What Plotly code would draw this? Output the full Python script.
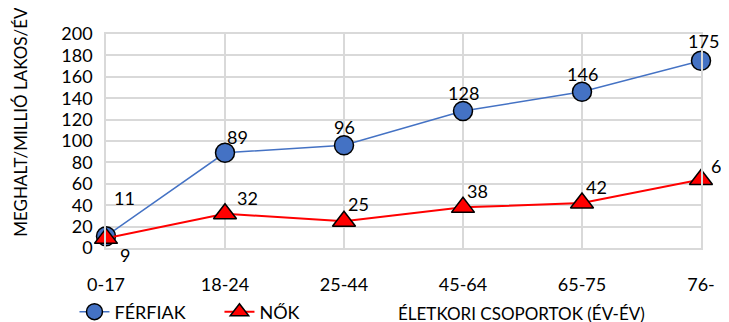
import plotly.graph_objects as go

categories = ["0-17", "18-24", "25-44", "45-64", "65-75", "76-"]
ferfiak = [11, 89, 96, 128, 146, 175]
nok = [9, 32, 25, 38, 42, 64]
y_ticks = [0, 20, 40, 60, 80, 100, 120, 140, 160, 180, 200]

FONT = "Lato"
FS = 18
fig = go.Figure()
fig.add_trace(go.Scatter(
    x=list(range(len(categories))), y=ferfiak, mode="lines+markers", name="FÉRFIAK",
    line=dict(color="#4472C4", width=1.5),
    marker=dict(symbol="circle", size=19, color="#4472C4", line=dict(color="black", width=1.5)),
    cliponaxis=False,
))
fig.add_trace(go.Scatter(
    x=list(range(len(categories))), y=nok, mode="lines+markers", name="NŐK",
    line=dict(color="#FF0000", width=2),
    marker=dict(symbol="triangle-up", size=20, color="#FF0000", line=dict(color="black", width=1.5)),
    cliponaxis=False,
))

# data labels
men_off = [(18, 38), (12, 16), (0, 18), (0, 18), (0, 18), (2, 20)]
women_off = [(19, -17), (22, 16), (14, 17), (14, 16), (14, 16), (20, 14)]
for i, v in enumerate(ferfiak):
    fig.add_annotation(x=i, y=v, text=str(v), showarrow=False, xshift=men_off[i][0],
                       yshift=men_off[i][1], font=dict(family=FONT, size=FS, color="black"))
for i, v in enumerate(nok):
    fig.add_annotation(x=i, y=v, text=str(v), showarrow=False, xshift=women_off[i][0],
                       yshift=women_off[i][1], font=dict(family=FONT, size=FS, color="black"))

fig.add_annotation(xref="paper", yref="paper", x=0.699, y=-0.305, xanchor="center", yanchor="middle",
                   text="ÉLETKORI CSOPORTOK (ÉV-ÉV)",
                   showarrow=False, font=dict(family=FONT, size=17, color="black"))
fig.add_annotation(xref="paper", yref="paper", x=-0.143, y=0.589, xanchor="center", yanchor="middle",
                   text="MEGHALT/MILLIÓ LAKOS/ÉV",
                   showarrow=False, textangle=-90, font=dict(family=FONT, size=17, color="black"))

# page body has an 8px margin: compensate so the plot area lands at x 106..701, y 34..248
fig.update_layout(
    width=729, height=322,
    margin=dict(l=98, r=36, t=26, b=82, autoexpand=False),
    paper_bgcolor="white", plot_bgcolor="white",
    font=dict(family=FONT, size=FS, color="black"),
    showlegend=True,
    legend=dict(orientation="h", x=-0.053, y=-0.299,
                xanchor="left", yanchor="middle", font=dict(family=FONT, size=FS),
                itemwidth=30, entrywidth=100, entrywidthmode="pixels",
                bgcolor="rgba(0,0,0,0)"),
    xaxis=dict(range=[0, 5], tickmode="array", tickvals=list(range(len(categories))),
               ticktext=categories, showgrid=True, gridcolor="#D9D9D9", gridwidth=1.5,
               zeroline=False, showline=True, linecolor="#D9D9D9", linewidth=1.5, mirror=True,
               ticklabelstandoff=20, tickfont=dict(size=FS), automargin=False),
    yaxis=dict(range=[0, 200], tickmode="array", tickvals=y_ticks, showgrid=True,
               gridcolor="#D9D9D9", gridwidth=1.5, zeroline=False, showline=True,
               linecolor="#D9D9D9", linewidth=1.5, mirror=True, ticklabelstandoff=8,
               tickfont=dict(size=FS), automargin=False),
)
fig.write_html("out.html")
